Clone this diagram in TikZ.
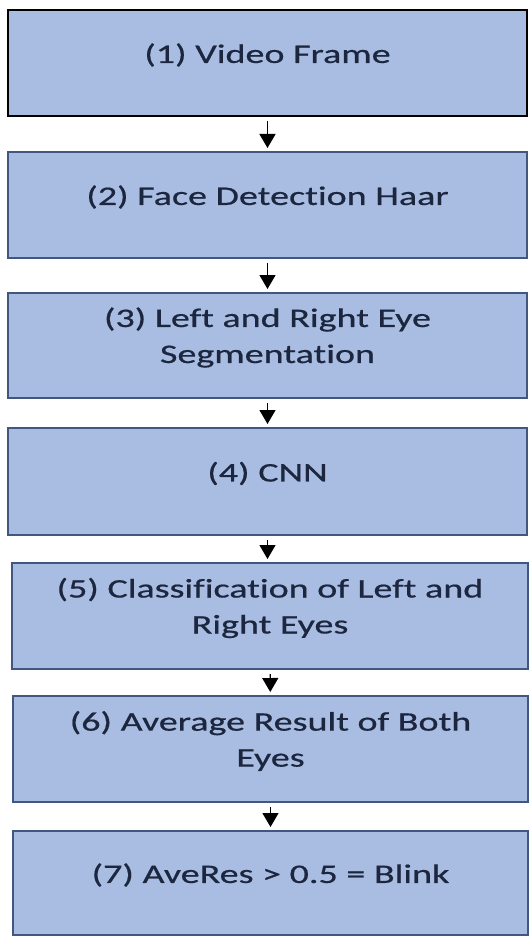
\documentclass[tikz,border=0pt]{standalone}
\usepackage{fontspec}
\setmainfont[FakeStretch=1.42,Ligatures=NoCommon,FakeBold=0.6]{Carlito}
\usetikzlibrary{arrows.meta}
\definecolor{boxfill}{RGB}{169,189,227}
\definecolor{boxline}{RGB}{64,88,128}
\definecolor{boxtext}{RGB}{28,38,62}
\begin{document}
\begin{tikzpicture}[x=0.5pt,y=-0.5pt,
    stage/.style={draw=boxline,line width=1pt,fill=boxfill,minimum width=259.5pt,minimum height=53pt,inner sep=0pt},
    txt/.style={text=boxtext,font=\fontsize{13.4}{18}\selectfont,align=center,yshift=4pt},
    flow/.style={-{Triangle[width=8pt,length=7pt]},line width=0.7pt,shorten <=2pt,shorten >=1.5pt}]
    \useasboundingbox (0,0) rectangle (529,936);
    % stages
    \node[stage,draw=black,line width=1.4pt,label={[txt]center:(1) Video Frame}] (b1) at (267.5,63) {};
    \node[stage,label={[txt]center:(2) Face Detection Haar}] (b2) at (267.5,205) {};
    \node[stage,minimum height=52.5pt,label={[txt]center:{(3) Left and Right Eye\\Segmentation}}] (b3) at (267.5,345.5) {};
    \node[stage,minimum height=53.5pt,label={[txt]center:(4) CNN}] (b4) at (267.5,481.5) {};
    \node[stage,minimum width=258pt,label={[txt]center:{(5) Classification of Left and\\Right Eyes}}] (b5) at (270,616) {};
    \node[stage,minimum width=257.5pt,label={[txt]center:{(6) Average Result of Both\\Eyes}}] (b6) at (270.5,749) {};
    \node[stage,minimum width=257.5pt,minimum height=52pt,label={[txt]center:(7) AveRes > 0.5 = Blink}] (b7) at (270.5,883) {};
    % arrows
    \draw[flow] (b1) -- (b2);
    \draw[flow] (b2) -- (b3);
    \draw[flow] (b3) -- (b4);
    \draw[flow] (b4.south) -- (b4.south |- b5.north);
    \draw[flow] (b5) -- (b6);
    \draw[flow] (b6) -- (b7);
\end{tikzpicture}
\end{document}
